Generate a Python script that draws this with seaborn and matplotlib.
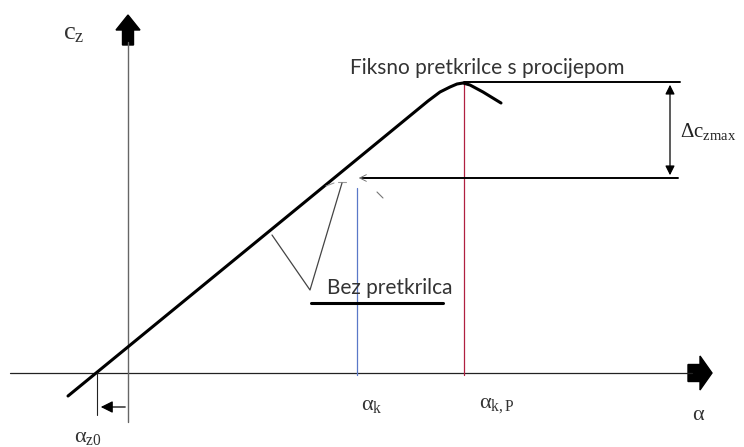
import matplotlib
matplotlib.use("Agg")
import matplotlib.pyplot as plt
from matplotlib.patches import FancyArrow
import pandas as pd
import seaborn as sns

# sketch coordinates (pixel-like units, y grows downward)
curve_x = [68, 300, 428, 440, 450, 457, 463, 470, 483, 501]
curve_y = [396, 206, 101, 92, 87, 84, 83, 85, 92, 103]

alpha_z0_x = 97
alpha_k_x = 356.5
alpha_kp_x = 463.5
cz_max_slat = 82
cz_max_plain = 178
axis_y = 373
axis_x = 128

v_marker_x = [272, 310, 342]
v_marker_y = [235, 290, 183]

label_top = "Fiksno pretkrilce s procijepom"
label_plain = "Bez pretkrilca"

sns.set_theme(style="white")
plt.rcParams["mathtext.fontset"] = "custom"
plt.rcParams["mathtext.rm"] = "Liberation Serif"
plt.rcParams["mathtext.it"] = "Liberation Serif:italic"
plt.rcParams["font.family"] = ["Lato", "DejaVu Sans"]

fig = plt.figure(figsize=(7.44, 4.47), dpi=100)
ax = fig.add_axes([0, 0, 1, 1])
ax.set_xlim(0, 744)
ax.set_ylim(447, 0)
ax.axis("off")

# axes of the sketch
ax.plot([10, 692], [axis_y, axis_y], color="#222222", lw=0.9)
ax.plot([axis_x, axis_x], [422, 42], color="#666666", lw=1.0)
ax.add_patch(FancyArrow(688, axis_y, 24, 0, width=17, head_width=34,
                        head_length=12, color="black", length_includes_head=True))
ax.add_patch(FancyArrow(axis_x, 45, 0, -30, width=11, head_width=24,
                        head_length=15, color="black", length_includes_head=True))

# vertical marker lines
ax.plot([alpha_kp_x, alpha_kp_x], [cz_max_slat, axis_y + 2], color="#b02040", lw=0.9)
ax.plot([alpha_k_x, alpha_k_x], [188, axis_y + 2], color="#5a78c8", lw=0.9)

# main curve (fixed slat with slot)
df = pd.DataFrame({"x": curve_x, "y": curve_y})
sns.lineplot(data=df, x="x", y="y", ax=ax, color="black", lw=2.2, sort=False)

# horizontal reference lines
ax.plot([alpha_kp_x, 680], [cz_max_slat, cz_max_slat], color="black", lw=1.4)
ax.plot([362, 678], [cz_max_plain, cz_max_plain], color="black", lw=1.4)
ax.annotate("", xy=(356, cz_max_plain), xytext=(366, cz_max_plain),
            arrowprops=dict(arrowstyle="->", color="#666666", lw=0.6))

# delta c_z max double arrow
ax.annotate("", xy=(670, cz_max_slat), xytext=(670, cz_max_plain),
            arrowprops=dict(arrowstyle="<|-|>", color="black", lw=0.9,
                            mutation_scale=14))
ax.text(680, 131, r"$\mathrm{\Delta c}_{\mathrm{zmax}}$", fontsize=15,
        va="center", ha="left", color="#222222")

# faint peak of the plain wing curve
ax.plot([326, 334], [186, 183], color="#999999", lw=0.8)
ax.plot([338, 346], [182, 182], color="#999999", lw=0.8)
ax.plot([377, 383], [192, 198], color="#777777", lw=0.8)

# V pointer to "Bez pretkrilca"
ax.plot(v_marker_x, v_marker_y, color="#444444", lw=0.9)
ax.text(327, 288, label_plain, fontsize=15, color="#333333",
        va="center", ha="left")
ax.plot([311, 443], [303, 303], color="black", lw=2.2)

ax.text(487, 68, label_top, fontsize=15, color="#333333",
        va="center", ha="center")

# alpha_z0 offset marker
ax.plot([alpha_z0_x, alpha_z0_x], [axis_y, 415], color="#222222", lw=0.8)
ax.annotate("", xy=(alpha_z0_x + 1, 407), xytext=(axis_x, 407),
            arrowprops=dict(arrowstyle="-|>", color="black", lw=0.9,
                            mutation_scale=18))

# labels
ax.text(63, 33, r"$\mathrm{c}_{\mathrm{z}}$", fontsize=19, color="#333333",
        va="center", ha="left")
ax.text(74, 437, r"$\mathrm{α}_{\mathrm{z0}}$", fontsize=16, color="#333333",
        va="center", ha="left")
ax.text(361, 405, r"$\mathrm{α}_{\mathrm{k}}$", fontsize=16, color="#333333",
        va="center", ha="left")
ax.text(479, 405, r"$\mathrm{α}_{\mathrm{k,P}}$", fontsize=16, color="#333333",
        va="center", ha="left")
ax.text(692, 414, r"$\mathrm{α}$", fontsize=16, color="#333333",
        va="center", ha="left")

fig.savefig("out.png", dpi=100)
